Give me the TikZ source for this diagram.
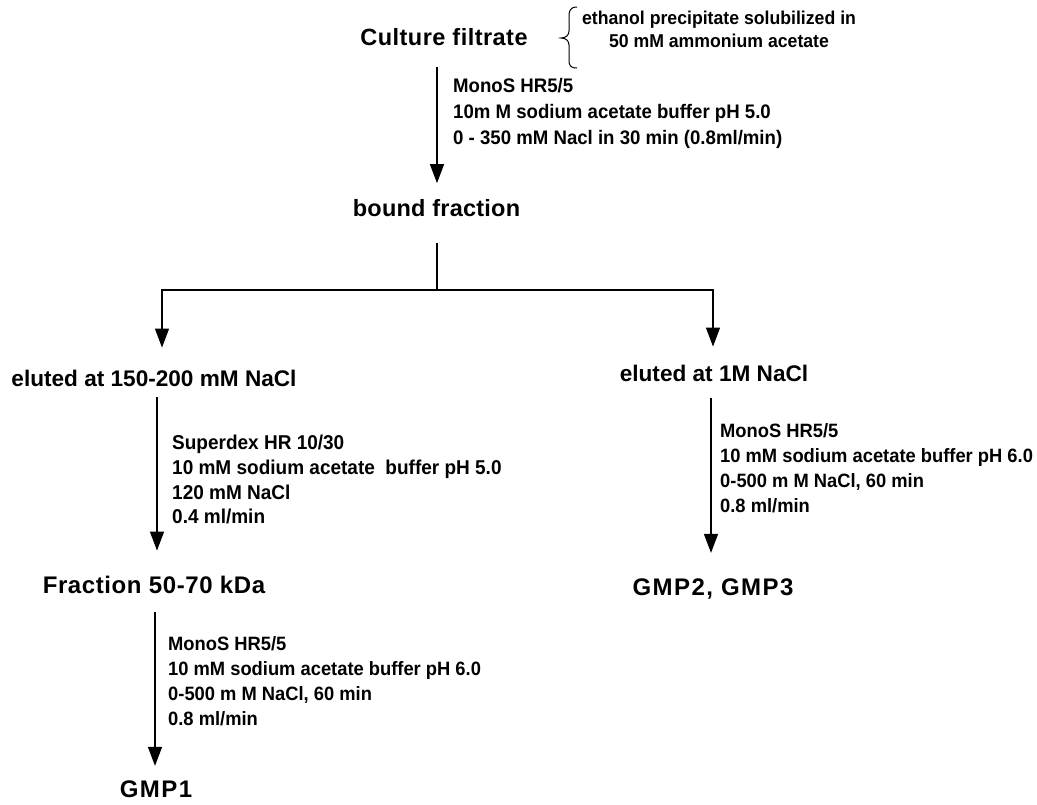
\documentclass[tikz,border=0pt]{standalone}
\usepackage{fontspec}
\setmainfont{Liberation Sans}
\newfontfamily\titlef{Liberation Sans Bold}
\newfontfamily\notef{Liberation Sans Bold}[FakeStretch=0.95]
\usetikzlibrary{arrows.meta}
\begin{document}
\begin{tikzpicture}[x=1pt,y=-1pt,
  title/.style 2 args={font=\titlef\fontsize{#1}{#1}\selectfont\addfontfeature{LetterSpace=#2},
                inner sep=0pt, text height=16.5pt, text depth=0pt},
  note/.style={font=\notef\fontsize{19.3}{25}\selectfont, align=left, anchor=north west, inner sep=0pt},
  arr/.style={line width=1.4pt, -{Triangle[length=19pt,width=14pt]}},
  plain/.style={line width=1.4pt}
]
\useasboundingbox (0,0) rectangle (1037,804);

% titles
\node[title={23.5}{2}] (cf) at (444,37) {Culture filtrate};
\node[title={23.5}{1}] (bf) at (436.5,208) {bound fraction};
\node[title={22.6}{0}] (e1) at (154,378) {eluted at 150-200 mM NaCl};
\node[title={22.6}{0}] (e2) at (714,373) {eluted at 1M NaCl};
\node[title={24}{2.5}] (fr) at (154,585) {Fraction 50-70 kDa};
\node[title={24}{6}] (g1) at (156,789) {GMP1};
\node[title={24}{6}] (g23) at (713,587) {GMP2, GMP3};

% side note with brace
\node[font=\notef\fontsize{18.6}{23}\selectfont, align=center, anchor=north, inner sep=0pt] (eth) at (719,11)
  {ethanol precipitate solubilized in\\50 mM ammonium acetate};
\draw[line width=1pt] (577,7) .. controls (570,7) and (569,11) .. (569,17)
  -- (569,31) .. controls (569,35) and (566,38) .. (561,38)
  .. controls (566,38) and (569,41) .. (569,45)
  -- (569,60) .. controls (569,65) and (570,68) .. (577,68);

% annotations
\node[note, font=\notef\fontsize{19.6}{26}\selectfont] (n1) at (453,78)
  {MonoS HR5/5\\10m M sodium acetate buffer pH 5.0\\0 - 350 mM Nacl in 30 min (0.8ml/min)};
\node[note, font=\notef\fontsize{20}{24.7}\selectfont] (n2) at (172,435)
  {Superdex HR 10/30\\10 mM sodium acetate\ \ buffer pH 5.0\\120 mM NaCl\\0.4 ml/min};
\node[note] (n3) at (168,636)
  {MonoS HR5/5\\10 mM sodium acetate buffer pH 6.0\\0-500 m M NaCl, 60 min\\0.8 ml/min};
\node[note] (n4) at (720,423)
  {MonoS HR5/5\\10 mM sodium acetate buffer pH 6.0\\0-500 m M NaCl, 60 min\\0.8 ml/min};

% connectors
\coordinate (a1s) at ([xshift=-7pt,yshift=-22pt]cf.south);
\coordinate (a1e) at ([yshift=16.4pt]bf.north);
\draw[arr] (a1s) -- (a1s |- a1e);

\coordinate (bs) at ([xshift=0.5pt,yshift=-26.4pt]bf.south);
\coordinate (jn) at ([xshift=0.5pt,yshift=-73.4pt]bf.south);
\coordinate (t1) at ([xshift=8pt,yshift=22pt]e1.north);
\coordinate (t2) at ([xshift=-1pt,yshift=18pt]e2.north);
\draw[plain] (bs) -- (jn);
\draw[arr] (jn) -| (t1);
\draw[arr] (jn) -| (t2);

\coordinate (a2s) at ([xshift=3pt,yshift=-11pt]e1.south);
\coordinate (a2e) at ([yshift=26pt]fr.north);
\draw[arr] (a2s) -- (a2s |- a2e);

\coordinate (a3s) at ([xshift=1pt,yshift=-19pt]fr.south);
\coordinate (a3e) at ([yshift=14.7pt]g1.north);
\draw[arr] (a3s) -- (a3s |- a3e);

\coordinate (a4s) at ([xshift=-3pt,yshift=-17pt]e2.south);
\coordinate (a4e) at ([yshift=25.7pt]g23.north);
\draw[arr] (a4s) -- (a4s |- a4e);
\end{tikzpicture}
\end{document}
